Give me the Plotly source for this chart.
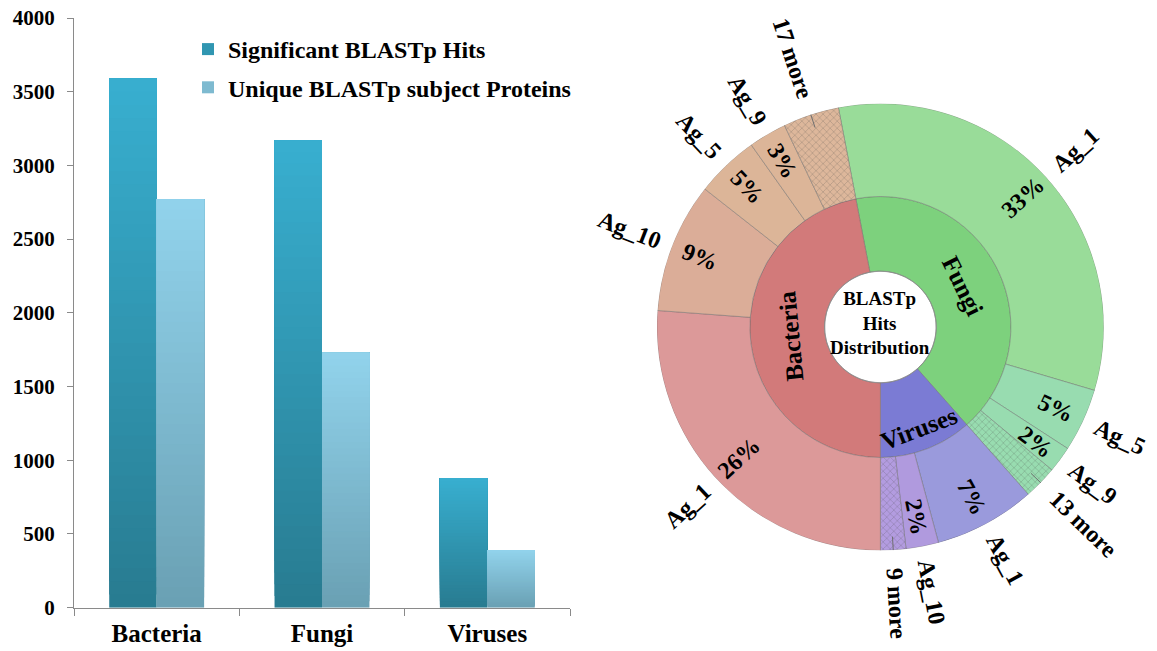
import math
import plotly.graph_objects as go

# ---------------- data ----------------
categories = ["Bacteria", "Fungi", "Viruses"]
significant_hits = [3590, 3170, 880]
unique_proteins = [2770, 1730, 390]
y_ticks = [0, 500, 1000, 1500, 2000, 2500, 3000, 3500, 4000]

# hit distribution per kingdom (outer ring leaves, clockwise order)
ring_groups = ["Fungi", "Viruses", "Bacteria"]
fungi_labels = ["Ag_1", "Ag_5", "Ag_9", "13 more"]
fungi_hits = [2490, 350, 145, 185]
viruses_labels = ["Ag_1", "Ag_10", "9 more"]
viruses_hits = [560, 180, 140]
bacteria_labels = ["Ag_1", "Ag_10", "Ag_5", "Ag_9", "17 more"]
bacteria_hits = [2000, 720, 350, 210, 310]
center_title = "BLASTp<br>Hits<br>Distribution"

# ---------------- styling ----------------
W, H = 1157, 651
SERIF = "Liberation Serif, Times New Roman, serif"
AXIS_GREY = "#8a8a8a"

SIG_TOP, SIG_BOTTOM = (56, 175, 208), (40, 123, 144)
UNI_TOP, UNI_BOTTOM = (146, 211, 236), (105, 160, 179)
N_SHADES = 40

inner_colors = {"Fungi": "#7dd17d", "Viruses": "#7b7bd4", "Bacteria": "#d27a7a"}
leaf_colors = {
    "Fungi": ["#99dc99", "#98dcb0", "#98dcb0", "#98dcb0"],
    "Viruses": ["#9a9adc", "#b09ade", "#b39ce0"],
    "Bacteria": ["#dc9999", "#dbad98", "#dcb598", "#dcb598", "#ddb79b"],
}
hatch_colors = {"Fungi": "#8ccfa3", "Viruses": "#a48fd4", "Bacteria": "#cfa98d"}

# donut geometry (pixels)
CX, CY = 880.4, 327.0
R_OUT, R_MID, R_HOLE = 223.5, 130.5, 55.8


def mix(c0, c1, t):
    return "rgb({},{},{})".format(*[round(a + (b - a) * t) for a, b in zip(c0, c1)])


fig = go.Figure()

# ---------------- grouped bars with vertical shading ----------------
# each shade runs from its own level up to the bar top; later shades cover
# the upper part of earlier ones, giving a seamless bottom-to-top gradient
BAR_W = 0.287
for name, values, top, bottom, off in [
    ("Significant BLASTp Hits", significant_hits, SIG_TOP, SIG_BOTTOM, -BAR_W),
    ("Unique BLASTp subject Proteins", unique_proteins, UNI_TOP, UNI_BOTTOM, 0.0),
]:
    for k in range(N_SHADES):
        fig.add_trace(go.Bar(
            x=categories,
            y=[v * (N_SHADES - k) / N_SHADES for v in values],
            base=[v * k / N_SHADES for v in values],
            offset=off, width=BAR_W,
            marker=dict(color=mix(bottom, top, (k + 0.5) / N_SHADES), line=dict(width=0)),
            name=name, legendgroup=name,
            showlegend=(k == N_SHADES // 2),
            hoverinfo="skip",
        ))

# ---------------- sunburst rings ----------------
groups = {
    "Fungi": (fungi_labels, fungi_hits),
    "Viruses": (viruses_labels, viruses_hits),
    "Bacteria": (bacteria_labels, bacteria_hits),
}
total = sum(sum(groups[g][1]) for g in ring_groups)
start = 180.0 - 360.0 * (sum(fungi_hits) + sum(viruses_hits)) / total

in_theta, in_width, in_color = [], [], []
out_theta, out_width, out_color, out_shape, out_fg = [], [], [], [], []
leaves = []
pos = start
for g in ring_groups:
    labels, hits = groups[g]
    span_g = 360.0 * sum(hits) / total
    in_theta.append(pos + span_g / 2)
    in_width.append(span_g)
    in_color.append(inner_colors[g])
    p = pos
    for lab, h, col in zip(labels, hits, leaf_colors[g]):
        span = 360.0 * h / total
        out_theta.append(p + span / 2)
        out_width.append(span)
        out_color.append(col)
        more = lab.endswith("more")
        out_shape.append("x" if more else "")
        out_fg.append(hatch_colors[g])
        leaves.append((lab, h, p + span / 2, more))
        p += span
    pos += span_g

ring_line = dict(color="rgba(105,105,105,0.55)", width=0.8)
fig.add_trace(go.Barpolar(
    r=[R_MID - R_HOLE] * len(in_theta), base=[R_HOLE] * len(in_theta),
    theta=in_theta, width=in_width,
    marker=dict(color=in_color, line=ring_line),
    showlegend=False, hoverinfo="skip",
))
fig.add_trace(go.Barpolar(
    r=[R_OUT - R_MID] * len(out_theta), base=[R_MID] * len(out_theta),
    theta=out_theta, width=out_width,
    marker=dict(color=out_color, line=ring_line,
                pattern=dict(shape=out_shape, fgcolor=out_fg,
                             size=5, solidity=0.15, fillmode="overlay")),
    showlegend=False, hoverinfo="skip",
))
# centre circle outline
fig.add_trace(go.Scatterpolar(
    r=[R_HOLE] * 361, theta=list(range(361)), mode="lines",
    line=dict(color="#8c8c8c", width=1), showlegend=False, hoverinfo="skip",
))
# leader lines for the grouped "more" slices
for lab, h, th, more in leaves:
    if more:
        fig.add_trace(go.Scatterpolar(
            r=[210, 236], theta=[th, th], mode="lines",
            line=dict(color="#6e6e6e", width=1), showlegend=False, hoverinfo="skip",
        ))

# ---------------- ring labels ----------------
CHAR_W = {"A": 0.722, "g": 0.5, "_": 0.5, " ": 0.25, "m": 0.833, "o": 0.5,
          "r": 0.444, "e": 0.444, "%": 1.0}


def text_width(s, size):
    return sum(CHAR_W.get(c, 0.5) for c in s) * size


def paper(r, th):
    a = math.radians(th)
    px = CX + r * math.sin(a)
    py = CY - r * math.cos(a)
    return px / W, 1 - py / H


def radial_angle(th):
    t = th % 360
    return t - 90 if t < 180 else t - 270


annotations = []
LBL = 24
for lab, h, th, more in leaves:
    ang = radial_angle(th)
    if not more:
        x, y = paper(193, th)
        annotations.append(dict(x=x, y=y, text=f"{round(100 * h / total)}%", textangle=ang))
    r0 = 241 if more else R_OUT + 13
    x, y = paper(r0 + text_width(lab, LBL) / 2, th)
    annotations.append(dict(x=x, y=y, text=lab, textangle=ang))

inner_radius = {"Fungi": 92, "Viruses": 108, "Bacteria": 90}
for g, th in zip(ring_groups, in_theta):
    x, y = paper(inner_radius[g], th)
    annotations.append(dict(x=x, y=y, text=g, textangle=((th + 100) % 180) - 100,
                            font=dict(family=SERIF, size=25, color="black", weight="bold")))

for a in annotations:
    a.update(xref="paper", yref="paper", xanchor="center", yanchor="middle", showarrow=False)
    a.setdefault("font", dict(family=SERIF, size=LBL, color="black", weight="bold"))

cx_p, cy_p = paper(4, 0)
annotations.append(dict(x=cx_p, y=cy_p, xref="paper", yref="paper", text=center_title,
                        showarrow=False, xanchor="center", yanchor="middle",
                        font=dict(family=SERIF, size=19, color="black", weight="bold")))

# ---------------- layout ----------------
fig.update_layout(
    width=W, height=H, margin=dict(l=0, r=0, t=0, b=0, autoexpand=False),
    paper_bgcolor="white", plot_bgcolor="white",
    barmode="overlay",
    font=dict(family=SERIF, color="black"),
    xaxis=dict(domain=[74 / W, 570 / W], type="category", range=[-0.5, 2.5],
               automargin=False,
               tickson="boundaries", ticks="outside", ticklen=7, tickcolor=AXIS_GREY,
               showline=True, linecolor=AXIS_GREY, linewidth=1, showgrid=False,
               ticklabelstandoff=3,
               tickfont=dict(family=SERIF, size=25, color="black", weight="bold")),
    yaxis=dict(domain=[(H - 607.7) / H, (H - 18) / H], range=[0, 4000],
               automargin=False,
               tickvals=y_ticks, ticktext=[str(v) for v in y_ticks],
               ticks="outside", ticklen=6, tickcolor=AXIS_GREY,
               showline=True, linecolor=AXIS_GREY, linewidth=1,
               showgrid=False, zeroline=False, ticklabelstandoff=8,
               tickfont=dict(family=SERIF, size=21, color="black", weight="bold")),
    legend=dict(x=188 / W, y=(H - 27) / H, xanchor="left", yanchor="top",
                bgcolor="rgba(0,0,0,0)", tracegroupgap=4,
                font=dict(family=SERIF, size=24, color="black", weight="bold")),
    polar=dict(
        domain=dict(x=[(CX - R_OUT) / W, (CX + R_OUT) / W],
                    y=[(H - CY - R_OUT) / H, (H - CY + R_OUT) / H]),
        bgcolor="rgba(0,0,0,0)",
        angularaxis=dict(direction="clockwise", rotation=90, visible=False),
        radialaxis=dict(range=[0, R_OUT], visible=False),
    ),
    annotations=annotations,
)

fig.write_html("out.html")
